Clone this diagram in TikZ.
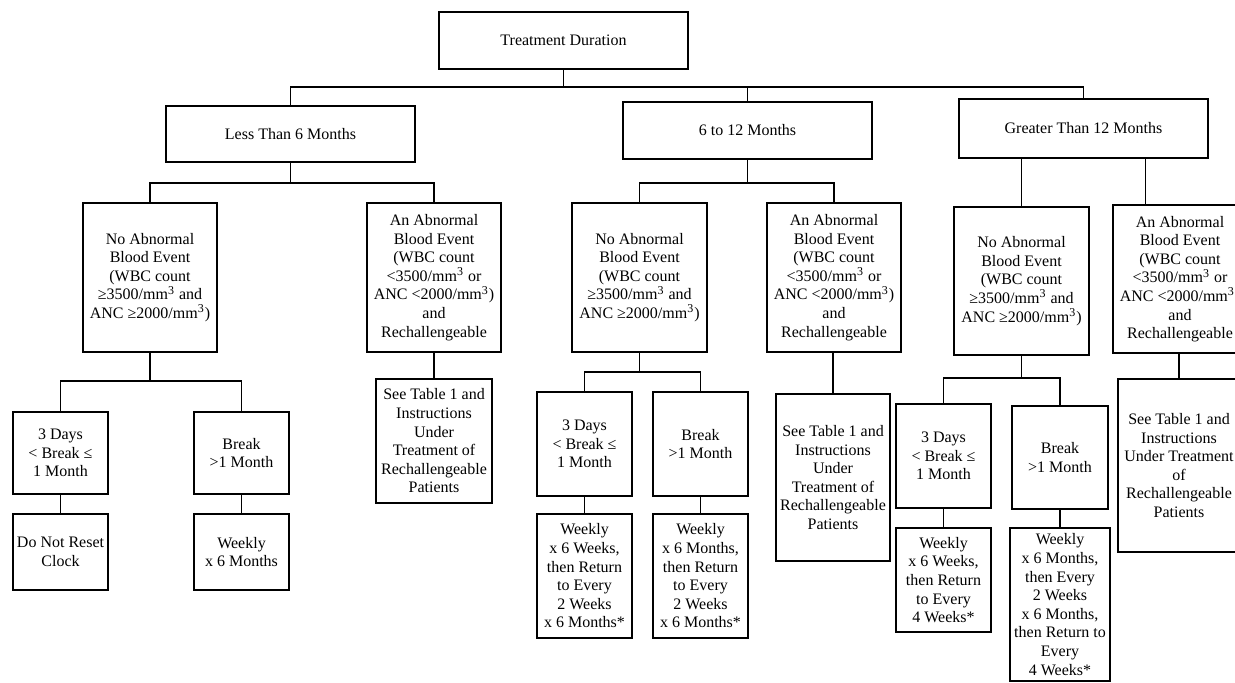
\documentclass[tikz,border=0pt]{standalone}
\usepackage{fontspec}
\setmainfont{Liberation Serif}
\usepackage{tikz}

\tikzset{
	box/.style={draw, line width=0.6pt, inner sep=0pt, align=center, font=\fontsize{8}{9.3}\selectfont},
	link/.style={line width=0.6pt}
}

% name, left, top, right, bottom, text
\newcommand{\boxat}[6]{\node[box, minimum width={(#4-#2)*0.5pt}, minimum height={(#5-#3)*0.5pt}] (#1) at ({(#2+#4)/2},{(#3+#5)/2}) {#6};}

\newcommand{\noev}{No Abnormal\\Blood Event\\(WBC count\\≥3500/mm\textsuperscript{3} and\\ANC ≥2000/mm\textsuperscript{3})}
\newcommand{\abev}{An Abnormal\\Blood Event\\(WBC count\\<3500/mm\textsuperscript{3} or\\ANC <2000/mm\textsuperscript{3})\\and\\Rechallengeable}
\newcommand{\shortbrk}{3 Days\\< Break ≤\\1 Month}
\newcommand{\longbrk}{Break\\>1 Month}
\newcommand{\seetab}{See Table 1 and\\Instructions\\Under\\Treatment of\\Rechallengeable\\Patients}

\begin{document}
\begin{tikzpicture}[x=0.5pt, y=-0.5pt]
	\useasboundingbox (0,0) rectangle (1235,683);

	\boxat{dur}{439}{12}{688}{69}{Treatment Duration}
	\boxat{less}{166}{106}{415}{162}{Less Than 6 Months}
	\boxat{mid}{623}{102}{872}{159}{6 to 12 Months}
	\boxat{more}{959}{99}{1208}{158}{Greater Than 12 Months}

	\boxat{noA}{83}{203}{217}{352}{\noev}
	\boxat{abA}{367}{203}{501}{352}{\abev}
	\boxat{noB}{572}{203}{707}{352}{\noev}
	\boxat{abB}{767}{203}{901}{352}{\abev}
	\boxat{noC}{954}{207}{1089}{355}{\noev}
	\boxat{abC}{1113}{205}{1247}{353}{\abev}

	\boxat{shortA}{13}{412}{108}{494}{\shortbrk}
	\boxat{longA}{194}{412}{289}{494}{\longbrk}
	\boxat{clockA}{13}{514}{108}{590}{Do Not Reset\\Clock}
	\boxat{weekA}{194}{514}{289}{590}{Weekly\\x 6 Months}
	\boxat{tabA}{376}{379}{492}{503}{\seetab}

	\boxat{shortB}{537}{392}{632}{496}{\shortbrk}
	\boxat{longB}{653}{392}{748}{496}{\longbrk}
	\boxat{weekB}{537}{514}{632}{638}{Weekly\\x 6 Weeks,\\then Return\\to Every\\2 Weeks\\x 6 Months*}
	\boxat{monthB}{653}{514}{748}{638}{Weekly\\x 6 Months,\\then Return\\to Every\\2 Weeks\\x 6 Months*}
	\boxat{tabB}{776}{394}{890}{561}{\seetab}

	\boxat{shortC}{896}{404}{991}{508}{\shortbrk}
	\boxat{longC}{1012}{406}{1108}{509}{\longbrk}
	\boxat{weekC}{896}{528}{991}{632}{Weekly\\x 6 Weeks,\\then Return\\to Every\\4 Weeks*}
	\boxat{monthC}{1010}{528}{1110}{681}{Weekly\\x 6 Months,\\then Every\\2 Weeks\\x 6 Months,\\then Return to\\Every\\4 Weeks*}
	\boxat{tabC}{1118}{379}{1240}{552}{See Table 1 and\\Instructions\\Under Treatment\\of\\Rechallengeable\\Patients}

	\coordinate (top) at (563.5,87);
	\draw[link] (dur.south) -- (top);
	\draw[link] (less.north) |- (top) -| (mid.north);
	\draw[link] (top) -| (more.north);

	\coordinate (splitA) at (290.5,183);
	\draw[link] (less.south) -- (splitA);
	\draw[link] (noA.north) |- (splitA) -| (abA.north);
	\coordinate (splitB) at (747.5,183);
	\draw[link] (mid.south) -- (splitB);
	\draw[link] (noB.north) |- (splitB) -| (abB.north);
	\draw[link] (more.south -| noC.north) -- (noC.north);
	\draw[link] ([xshift=16.5pt]abC.north west) -- ([xshift=16.5pt]abC.north west |- more.south);

	\coordinate (breakA) at (150,381);
	\draw[link] (noA.south) -- (breakA);
	\draw[link] (shortA.north) |- (breakA) -| (longA.north);
	\draw[link] (shortA.south) -- (clockA.north);
	\draw[link] (longA.south) -- (weekA.north);
	\draw[link] (abA.south) -- (tabA.north);

	\coordinate (breakB) at (639.5,372);
	\draw[link] (noB.south) -- (breakB);
	\draw[link] (shortB.north) |- (breakB) -| (longB.north);
	\draw[link] (shortB.south) -- (weekB.north);
	\draw[link] (longB.south) -- (monthB.north);
	\draw[link] (abB.south -| tabB.north) -- (tabB.north);

	\coordinate (breakC) at (1021.5,378);
	\draw[link] (noC.south) -- (breakC);
	\draw[link] (shortC.north) |- (breakC) -| (longC.north);
	\draw[link] (shortC.south) -- (weekC.north);
	\draw[link] (longC.south) -- (monthC.north);
	\draw[link] (abC.south -| tabC.north) -- (tabC.north);
\end{tikzpicture}
\end{document}
